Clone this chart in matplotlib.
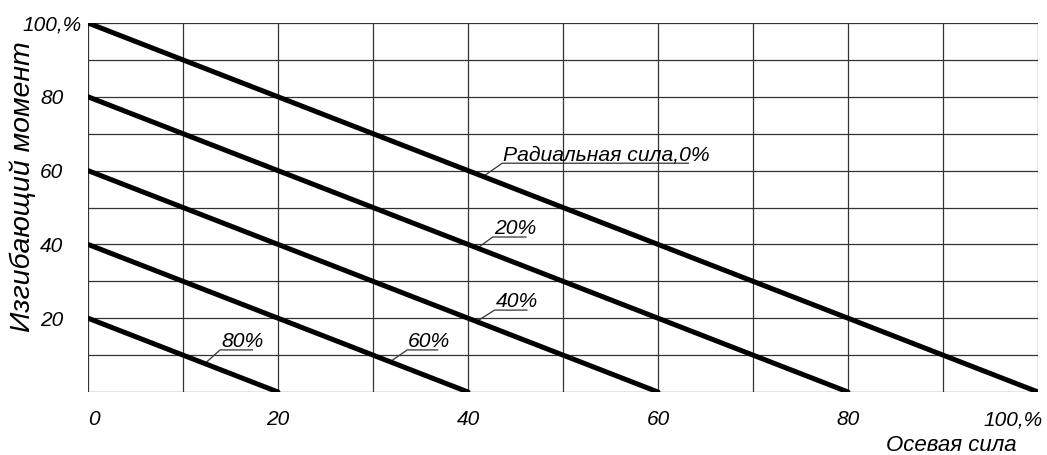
import numpy as np
import matplotlib.pyplot as plt
import matplotlib.transforms as mtransforms

# Radial force levels and the moment each line starts from (at zero axial force)
radial_labels = ['Радиальная сила,0%', '20%', '40%', '60%', '80%']
line_start = [100, 80, 60, 40, 20]

# label anchor: (x on line where leader starts, underline start x, underline end x, underline y)
leader_x = [41.6, 41.0, 40.9, 31.8, 12.3]
under_x0 = [43.6, 42.6, 42.8, 33.6, 13.9]
under_x1 = [63.2, 46.1, 46.2, 36.8, 17.3]
under_y = [62.0, 42.0, 22.2, 11.4, 11.4]

xticks = [0, 20, 40, 60, 80, 100]
xtick_labels = ['0', '20', '40', '60', '80', '100,%']
yticks = [20, 40, 60, 80, 100]
ytick_labels = ['20', '40', '60', '80', '100,%']

plt.rcParams['font.family'] = ['Liberation Sans', 'DejaVu Sans']
plt.rcParams['font.style'] = 'italic'

fig = plt.figure(figsize=(10.47, 4.55), dpi=100)
ax = fig.add_axes([88 / 1047, 63 / 455, 950 / 1047, 369 / 455])

# grid every 10 units
for g in range(0, 101, 10):
    ax.axvline(g, color='#333333', linewidth=0.9, zorder=1)
    ax.axhline(g, color='#333333', linewidth=0.9, zorder=1)

for v in line_start:
    ax.plot([0, v], [v, 0], color='black', linewidth=3.6,
            solid_capstyle='round', zorder=3)

for lab, v, lx, x0, x1, uy in zip(radial_labels, line_start, leader_x,
                                  under_x0, under_x1, under_y):
    ly = v - lx
    ax.plot([lx, x0, x1], [ly, uy, uy], color='#333333', linewidth=0.9, zorder=2)
    ax.text(x0 + 0.1, uy + 0.8, lab, fontsize=15.2, fontstyle='italic',
            ha='left', va='baseline', zorder=4)

ax.set_xlim(0, 100)
ax.set_ylim(0, 100)
for s in ax.spines.values():
    s.set_visible(False)

ax.set_xticks(xticks)
ax.set_xticklabels(xtick_labels, fontsize=15, fontstyle='italic')
ax.set_yticks(yticks)
ax.set_yticklabels(ytick_labels, fontsize=15, fontstyle='italic', ha='center')
ax.tick_params(axis='x', length=0, pad=13)
ax.tick_params(axis='y', length=0, pad=26)
ax.get_xticklabels()[0].set_horizontalalignment('left')
last = ax.get_xticklabels()[-1]
last.set_horizontalalignment('right')
last.set_transform(last.get_transform() +
                   mtransforms.ScaledTranslation(5 / 100, 0, fig.dpi_scale_trans))

fig.text(23 / 1047, 1 - 187 / 455, 'Изгибающий момент', rotation=90,
         fontsize=20.5, fontstyle='italic', ha='center', va='center')
fig.text(1017 / 1047, 1 - 451 / 455, 'Осевая сила', fontsize=16,
         fontstyle='italic', ha='right', va='baseline')

fig.savefig('out.png', dpi=100)
